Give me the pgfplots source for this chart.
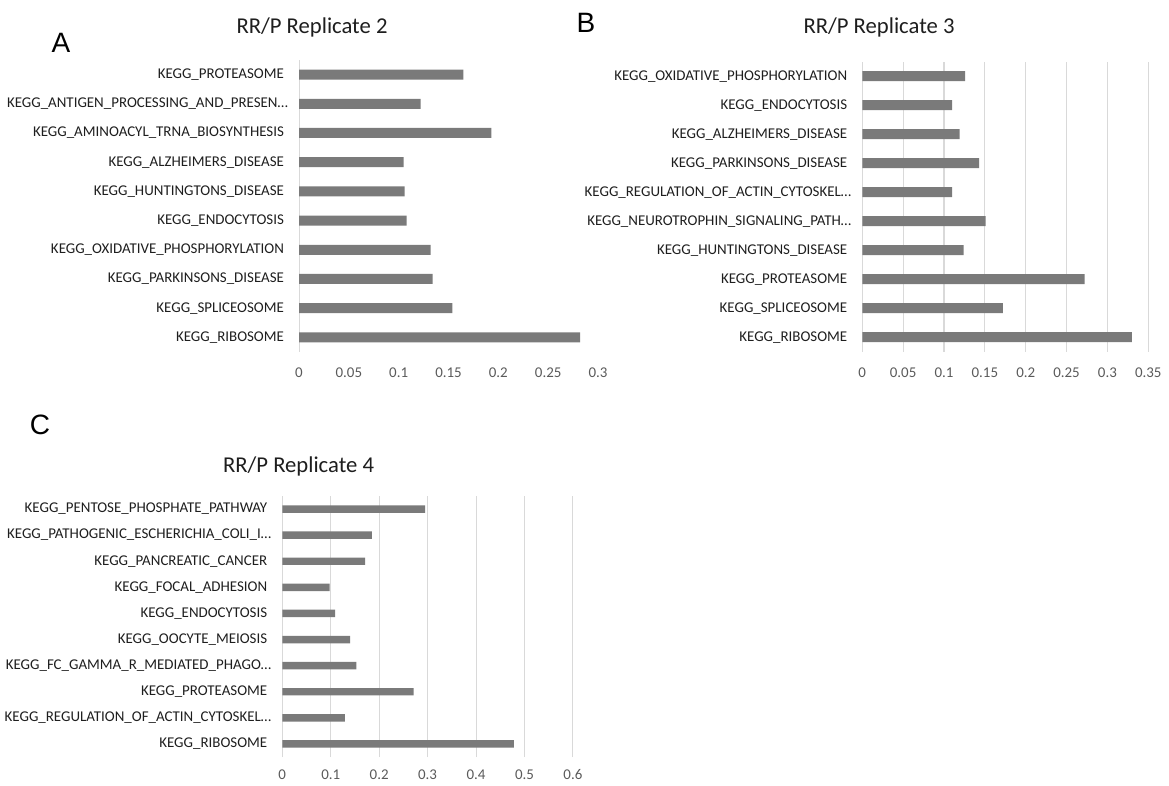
\documentclass[border=0pt]{standalone}
\usepackage{fontspec}
\setmainfont{Carlito}
\newfontfamily\arialf{Liberation Sans}
\usepackage{pgfplots}
\pgfplotsset{compat=1.18}
\definecolor{barc}{RGB}{122,122,122}
\definecolor{gridc}{RGB}{217,217,217}
\definecolor{labc}{RGB}{30,30,30}
\definecolor{tickc}{RGB}{90,90,90}

\pgfplotsset{kegg/.style={
  scale only axis, xbar, bar shift=0pt,
  enlargelimits=false,
  ymin=-0.5, ymax=9.5, ytick={0,...,9},
  xmin=0,
  axis line style={draw=none},
  tick style={draw=none},
  grid style={gridc, line width=0.8pt},
  /pgf/number format/assume math mode=true,
  yticklabel style={font=\fontsize{11.2}{12}\selectfont, text=labc, xshift=-3.5pt},
  xticklabel style={font=\fontsize{11.2}{12}\selectfont, text=tickc, yshift=-8.5pt},
}}

\begin{document}
\begin{tikzpicture}
\useasboundingbox (0,0) rectangle (876.75pt,588.75pt);

% Panel A
\begin{axis}[kegg, at={(224.25pt,324.75pt)}, anchor=south west,
  width=224.25pt, height=219pt, xmax=0.3, bar width=7.5pt,
  xtick={0,0.05,0.1,0.15,0.2,0.25,0.3},
  xticklabels={0,0.05,0.1,0.15,0.2,0.25,0.3},
  yticklabels={KEGG\_RIBOSOME,KEGG\_SPLICEOSOME,KEGG\_PARKINSONS\_DISEASE,KEGG\_OXIDATIVE\_PHOSPHORYLATION,KEGG\_ENDOCYTOSIS,KEGG\_HUNTINGTONS\_DISEASE,KEGG\_ALZHEIMERS\_DISEASE,KEGG\_AMINOACYL\_TRNA\_BIOSYNTHESIS,KEGG\_ANTIGEN\_PROCESSING\_AND\_PRESEN…\kern-3pt,KEGG\_PROTEASOME}]
\draw[gridc, line width=0.8pt] (axis cs:0,-0.5) -- (axis cs:0,9.5);
\addplot[fill=barc, draw=none] coordinates {
(0.282,0) (0.154,1) (0.134,2) (0.132,3) (0.108,4) (0.106,5) (0.105,6) (0.193,7) (0.122,8) (0.165,9)};
\end{axis}

% Panel B
\begin{axis}[kegg, at={(646.7pt,325pt)}, anchor=south west,
  width=214.5pt, height=217.5pt, xmax=0.35, bar width=7.5pt, xmajorgrids,
  xtick={0,0.05,0.1,0.15,0.2,0.25,0.3,0.35},
  xticklabels={0,0.05,0.1,0.15,0.2,0.25,0.3,0.35},
  yticklabels={KEGG\_RIBOSOME,KEGG\_SPLICEOSOME,KEGG\_PROTEASOME,KEGG\_HUNTINGTONS\_DISEASE,KEGG\_NEUROTROPHIN\_SIGNALING\_PATH…\kern-3pt,KEGG\_REGULATION\_OF\_ACTIN\_CYTOSKEL…\kern-3pt,KEGG\_PARKINSONS\_DISEASE,KEGG\_ALZHEIMERS\_DISEASE,KEGG\_ENDOCYTOSIS,KEGG\_OXIDATIVE\_PHOSPHORYLATION}]
\addplot[fill=barc, draw=none] coordinates {
(0.330,0) (0.172,1) (0.272,2) (0.124,3) (0.151,4) (0.110,5) (0.143,6) (0.119,7) (0.110,8) (0.126,9)};
\end{axis}

% Panel C
\begin{axis}[kegg, at={(211.7pt,21pt)}, anchor=south west,
  width=218pt, height=195.75pt, xmax=0.6, bar width=5.6pt, xmajorgrids,
  xticklabel style={yshift=2.5pt},
  xtick={0,0.1,0.2,0.3,0.4,0.5,0.6},
  xticklabels={0,0.1,0.2,0.3,0.4,0.5,0.6},
  yticklabels={KEGG\_RIBOSOME,KEGG\_REGULATION\_OF\_ACTIN\_CYTOSKEL…\kern-3pt,KEGG\_PROTEASOME,KEGG\_FC\_GAMMA\_R\_MEDIATED\_PHAGO…\kern-3pt,KEGG\_OOCYTE\_MEIOSIS,KEGG\_ENDOCYTOSIS,KEGG\_FOCAL\_ADHESION,KEGG\_PANCREATIC\_CANCER,KEGG\_PATHOGENIC\_ESCHERICHIA\_COLI\_I…\kern-3pt,KEGG\_PENTOSE\_PHOSPHATE\_PATHWAY}]
\addplot[fill=barc, draw=none] coordinates {
(0.478,0) (0.129,1) (0.271,2) (0.153,3) (0.140,4) (0.109,5) (0.098,6) (0.171,7) (0.185,8) (0.295,9)};
\end{axis}

\node[font=\fontsize{17}{20}\selectfont, text=labc] at (234pt,568.5pt) {RR/P Replicate 2};
\node[font=\fontsize{17}{20}\selectfont, text=labc] at (659.25pt,568.5pt) {RR/P Replicate 3};
\node[font=\fontsize{17}{20}\selectfont, text=labc] at (223.9pt,239.25pt) {RR/P Replicate 4};
\node[font=\arialf\fontsize{21}{24}\selectfont, inner sep=0pt] at (45.75pt,556.9pt) {A};
\node[font=\arialf\fontsize{21}{24}\selectfont, inner sep=0pt] at (439.5pt,571.3pt) {B};
\node[font=\arialf\fontsize{21}{24}\selectfont, inner sep=0pt] at (30pt,270pt) {C};
\end{tikzpicture}
\end{document}
